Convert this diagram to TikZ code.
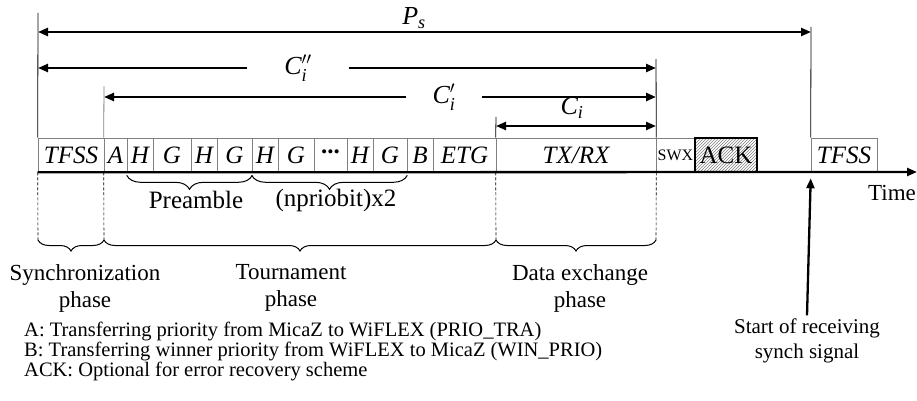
\documentclass[tikz,border=0pt]{standalone}
\usepackage{amsmath}
\usepackage{fontspec}
\setmainfont{Liberation Serif}
\usetikzlibrary{arrows.meta,decorations.pathreplacing,patterns}

\tikzset{
  slot/.style={draw=gray,line width=0.6pt,minimum height=34pt,inner sep=0pt,
    font=\fontsize{25}{25}\selectfont\itshape},
  ackbox/.style={draw=black,line width=1.6pt,pattern=north east lines,
    pattern color=gray,font=\fontsize{25}{25}\selectfont\upshape},
  dim/.style={line width=2.3pt,-{Triangle[length=10pt,width=8pt]}},
  axis/.style={line width=2.3pt,-{Triangle[length=10pt,width=8pt]}},
  mark line/.style={line width=0.8pt},
  guide/.style={densely dashed,line width=0.6pt},
  curly/.style={line width=1pt,decorate,decoration={brace,mirror,amplitude=#1}},
  lbl/.style={font=\fontsize{23}{27}\selectfont,align=center},
  dimlbl/.style={font=\fontsize{26}{26}\selectfont,inner sep=0pt}
}

\begin{document}
\begin{tikzpicture}[x=1pt,y=-1pt]

\useasboundingbox (0,0) rectangle (917,401);

% slots on the time line
\node[slot, minimum width=66pt]  (tfss1) at (71,155)    {TFSS};
\node[slot, minimum width=23pt]  (a)     at (115.5,155) {A};
\node[slot, minimum width=26pt]  (h1)    at (140,155)   {H};
\node[slot, minimum width=38pt]  (g1)    at (172,155)   {G};
\node[slot, minimum width=26pt]  (h2)    at (204,155)   {H};
\node[slot, minimum width=35pt]  (g2)    at (234.5,155) {G};
\node[slot, minimum width=26pt]  (h3)    at (265,155)   {H};
\node[slot, minimum width=36pt]  (g3)    at (296,155)   {G};
\node[slot, minimum width=33pt]  (dots)  at (330.5,155) {\upshape\bfseries\raisebox{7pt}{...}};
\node[slot, minimum width=26pt]  (h4)    at (360,155)   {H};
\node[slot, minimum width=34pt]  (g4)    at (390,155)   {G};
\node[slot, minimum width=26pt]  (b)     at (420,155)   {B};
\node[slot, minimum width=63pt]  (etg)   at (464.5,155) {ETG};
\node[slot, minimum width=160pt] (txrx)  at (576,155)   {TX/RX};
\node[slot, minimum width=39pt, font=\fontsize{16}{16}\selectfont] (swx) at (675.5,155) {SWX};
\node[slot, ackbox, minimum width=62pt] (ack) at (726,155) {ACK};
\node[slot, minimum width=66pt]  (tfss2) at (844,155)   {TFSS};

\coordinate (tend) at (917,172);
\draw[axis] (tfss1.south west) -- (tend);
\node[lbl] (time) at (892,193) {Time};

% vertical marks
\coordinate (v1) at (38,13);
\coordinate (v2) at (104,86);
\coordinate (v3) at (496,117);
\coordinate (v4) at (656,59);
\coordinate (v5) at (811,27);
\draw[mark line] (v1) -- (tfss1.north west);
\draw[mark line,gray] (v2) -- (a.north west);
\draw[mark line] (v3) -- (txrx.north west);
\draw[mark line] (v4) -- (txrx.north east);
\draw[mark line] (v5) -- (tfss2.north west);

% cycle lengths
\coordinate (psline) at (412,32);
\coordinate (ciline) at (576,126);
\node[dimlbl] (ps) at (414,18) {$\textit{P}_{\textit{s}}$};
\draw[dim,{Triangle[length=10pt,width=8pt]}-{Triangle[length=10pt,width=8pt]}] (psline -| v1) -- (psline -| v5);

\node[dimlbl, minimum width=101pt, minimum height=20pt] (cpp) at (298,68) {$\textit{C}''_{\textit{i}}$};
\draw[dim] (cpp) -- (cpp -| v1);
\draw[dim] (cpp) -- (cpp -| v4);

\node[dimlbl, minimum width=76pt, minimum height=20pt] (cp) at (444,97) {$\textit{C}'_{\textit{i}}$};
\draw[dim] (cp) -- (cp -| v2);
\draw[dim] (cp) -- (cp -| v4);

\node[dimlbl] (ci) at (572,108) {$\textit{C}_{\textit{i}}$};
\draw[dim,{Triangle[length=10pt,width=8pt]}-{Triangle[length=10pt,width=8pt]}] (ciline -| v3) -- (ciline -| v4);

% preamble braces
\draw[curly=14pt] ([yshift=-3pt]h1.south west) -- ([yshift=-3pt]g2.south east);
\draw[curly=14pt] ([yshift=-3pt]h3.south west) -- ([yshift=-3pt]g4.south east);
\node[lbl, font=\fontsize{25}{25}\selectfont] (pre)  at (196,200) {Preamble};
\node[lbl, font=\fontsize{25}{25}\selectfont] (npri) at (336,200) {(npriobit)x2};

% phases
\coordinate (p1) at (38,240);
\coordinate (p2) at (104,240);
\coordinate (p3) at (496,240);
\coordinate (p4) at (656,240);
\draw[guide] (tfss1.south west) -- (p1);
\draw[guide] (a.south west) -- (p2);
\draw[guide] (txrx.south west) -- (p3);
\draw[guide] (txrx.south east) -- (p4);
\draw[curly=11pt] (p1) -- (p2);
\draw[curly=11pt] (p2) -- (p3);
\draw[curly=11pt] (p3) -- (p4);
\node[lbl] (sync) at (85,288)  {Synchronization\\phase};
\node[lbl] (tour) at (291,288) {Tournament\\phase};
\node[lbl] (data) at (580,288) {Data exchange\\phase};

% synch signal
\node[lbl, font=\fontsize{21}{25}\selectfont] (start) at (807,341) {Start of receiving\\synch signal};
\draw[dim] (start.north) -- ([yshift=-6pt]tfss2.south west);

% notes
\node[anchor=north west, align=left, inner sep=0pt,
  font=\fontsize{20.5}{18}\selectfont] (notes) at (24,322)
  {A: Transferring priority from MicaZ to WiFLEX (PRIO\_TRA)\\
   B: Transferring winner priority from WiFLEX to MicaZ (WIN\_PRIO)\\
   ACK: Optional for error recovery scheme};

\end{tikzpicture}
\end{document}
